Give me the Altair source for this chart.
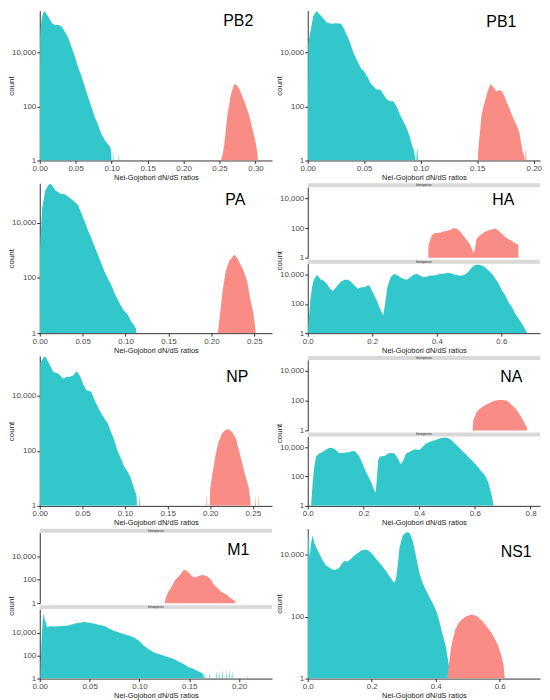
import altair as alt
import pandas as pd

# ---------------- data: (dN/dS ratio, count) outline points of each histogram ----------------
PB2_TEAL = [(0.0, 1), (0.0005, 4e4), (0.0023, 1.5e5), (0.0045, 2.8e5), (0.0068, 3.3e5), (0.0095, 2.6e5),
            (0.0123, 2e5), (0.017, 1.2e5), (0.0215, 1e5), (0.026, 1.05e5), (0.0306, 8.8e4), (0.035, 5.8e4),
            (0.0397, 3.3e4), (0.044, 1.6e4), (0.049, 6900), (0.053, 3000), (0.058, 1300), (0.0626, 550),
            (0.067, 234), (0.0717, 100), (0.076, 43), (0.081, 21), (0.0854, 10), (0.09, 6), (0.0945, 4),
            (0.097, 3.5), (0.099, 2.5), (0.1, 1), (0.1015, 1), (0.102, 2.5), (0.1025, 1), (0.1085, 1),
            (0.109, 2), (0.1095, 1)]
PB2_PINK = [(0.252, 1), (0.2545, 1.8), (0.2566, 3.9), (0.261, 49), (0.2658, 269), (0.270, 630), (0.2726, 660),
            (0.277, 470), (0.2817, 234), (0.2863, 115), (0.2909, 49), (0.2954, 16), (0.30, 5), (0.3023, 2.2),
            (0.3035, 1)]

PB1_TEAL = [(0.0, 1), (0.0005, 2e4), (0.002, 5e4), (0.0049, 2.2e5), (0.0078, 3.4e5), (0.012, 2.2e5),
            (0.0165, 1.3e5), (0.021, 1.15e5), (0.025, 1.2e5), (0.0295, 1.15e5), (0.032, 7.5e4), (0.0353, 3.8e4),
            (0.038, 1.9e4), (0.041, 8500), (0.044, 4600), (0.047, 2600), (0.0497, 2000), (0.0526, 1300),
            (0.0555, 740), (0.058, 560), (0.061, 420), (0.064, 420), (0.067, 275), (0.070, 180), (0.073, 155),
            (0.0757, 155), (0.0786, 100), (0.0815, 50), (0.0844, 29), (0.0873, 16.6), (0.090, 8.2), (0.092, 4),
            (0.094, 2.3), (0.0955, 1), (0.0962, 1), (0.0965, 2.5), (0.097, 2.5), (0.0975, 1)]
PB1_PINK = [(0.1505, 1), (0.151, 2.9), (0.1538, 50), (0.1566, 150), (0.1595, 400), (0.1616, 680), (0.1639, 530),
            (0.1668, 360), (0.1697, 400), (0.1725, 330), (0.1754, 170), (0.1783, 85), (0.1812, 42), (0.184, 24),
            (0.187, 12), (0.19, 2.3), (0.1913, 1.5), (0.192, 1), (0.1925, 1), (0.1928, 2.5), (0.1932, 2.5),
            (0.1935, 1)]

PA_TEAL = [(0.0, 1), (0.0003, 1200), (0.0027, 3.2e4), (0.0065, 1.5e5), (0.0103, 2.4e5), (0.013, 2.6e5),
           (0.018, 1.5e5), (0.0237, 1.15e5), (0.0294, 1.05e5), (0.035, 7.9e4), (0.041, 5.7e4), (0.0447, 4.3e4),
           (0.0485, 2.2e4), (0.0524, 1.1e4), (0.056, 5500), (0.06, 2800), (0.0638, 1400), (0.0677, 700),
           (0.0715, 350), (0.0753, 176), (0.079, 100), (0.083, 58), (0.0868, 30), (0.0906, 17), (0.0944, 10),
           (0.098, 6.5), (0.102, 5), (0.106, 2.8), (0.11, 1.9), (0.112, 1.5), (0.1125, 1)]
PA_PINK = [(0.2075, 1), (0.21, 5), (0.213, 34), (0.2167, 176), (0.2205, 400), (0.2244, 560), (0.227, 700),
           (0.23, 530), (0.234, 300), (0.2377, 176), (0.2416, 76), (0.245, 19), (0.249, 5), (0.2511, 1.5),
           (0.2515, 1)]

HA_PINK = [(0.3736, 1), (0.3745, 8), (0.3787, 13.5), (0.3838, 29), (0.389, 42), (0.399, 49), (0.409, 47),
           (0.419, 58), (0.429, 64), (0.44, 75), (0.45, 92), (0.458, 97), (0.465, 83), (0.4756, 49),
           (0.4853, 25), (0.4954, 13.5), (0.5056, 6.2), (0.5137, 2), (0.518, 3.7), (0.523, 17.5), (0.531, 29),
           (0.541, 42), (0.551, 58), (0.5716, 83), (0.582, 92), (0.592, 64), (0.602, 42), (0.612, 25),
           (0.622, 17.5), (0.633, 13.5), (0.648, 8), (0.6525, 8), (0.653, 1)]
HA_TEAL = [(0.0, 1), (0.003, 7.9), (0.008, 177), (0.0132, 1400), (0.018, 3900), (0.0234, 6600), (0.03, 9500),
           (0.0386, 5100), (0.0487, 3900), (0.059, 2350), (0.069, 1080), (0.076, 750), (0.084, 1080),
           (0.094, 2000), (0.1046, 3550), (0.115, 4400), (0.125, 4400), (0.135, 3000), (0.145, 1800),
           (0.155, 1080), (0.165, 1400), (0.1756, 1400), (0.186, 1800), (0.191, 1800), (0.196, 1080),
           (0.206, 384), (0.216, 136), (0.226, 37), (0.2335, 17), (0.2386, 63), (0.2467, 1400), (0.257, 6600),
           (0.267, 1.1e4), (0.277, 9500), (0.287, 6600), (0.2975, 5100), (0.3076, 4400), (0.3178, 6600),
           (0.328, 1e4), (0.338, 1.1e4), (0.348, 8700), (0.358, 6600), (0.3685, 7300), (0.3787, 8700),
           (0.389, 8700), (0.399, 9500), (0.409, 1.1e4), (0.419, 1.1e4), (0.429, 1.3e4), (0.44, 1.3e4),
           (0.45, 1.1e4), (0.46, 9500), (0.47, 8700), (0.48, 8700), (0.49, 1.1e4), (0.50, 1.86e4),
           (0.5107, 3.5e4), (0.521, 4.7e4), (0.531, 4.7e4), (0.541, 4e4), (0.551, 3.1e4), (0.561, 1.86e4),
           (0.5716, 1.1e4), (0.582, 5100), (0.592, 2350), (0.602, 830), (0.612, 384), (0.622, 136),
           (0.6325, 63), (0.6426, 22), (0.653, 10), (0.663, 4.7), (0.672, 2.2), (0.678, 1.3), (0.68, 1)]

NP_TEAL = [(0.0, 1), (0.0004, 8e4), (0.0008, 1.6e5), (0.0046, 2.5e5), (0.0065, 2.7e5), (0.0104, 1.6e5),
           (0.016, 7.4e4), (0.022, 6.4e4), (0.0277, 4.2e4), (0.0316, 4.9e4), (0.0354, 4.9e4), (0.039, 5.5e4),
           (0.0431, 7.8e4), (0.047, 5.5e4), (0.0508, 2.7e4), (0.0547, 1.6e4), (0.0604, 1.4e4), (0.0643, 6900),
           (0.068, 4000), (0.072, 2300), (0.0758, 1500), (0.0797, 1000), (0.0835, 480), (0.0874, 250),
           (0.091, 106), (0.095, 55), (0.099, 27), (0.1028, 18), (0.1066, 10.5), (0.11, 5), (0.1136, 2.3),
           (0.114, 1), (0.1165, 1), (0.117, 3), (0.1175, 1)]
NP_PINK = [(0.1955, 1), (0.196, 3), (0.1965, 1), (0.1995, 1), (0.2, 4.5), (0.2028, 16), (0.2067, 83),
           (0.21, 220), (0.214, 440), (0.218, 580), (0.222, 610), (0.226, 460), (0.23, 290), (0.2336, 106),
           (0.2375, 36), (0.2413, 12), (0.245, 5), (0.247, 1.7), (0.2475, 1), (0.2525, 1), (0.253, 2.5),
           (0.2535, 1), (0.2565, 1), (0.257, 3), (0.2575, 1)]

NA_PINK = [(0.592, 1), (0.594, 4.6), (0.606, 16.7), (0.618, 28), (0.629, 40), (0.641, 54), (0.653, 70),
           (0.665, 90), (0.676, 100), (0.688, 110), (0.7, 110), (0.712, 100), (0.723, 78), (0.735, 46),
           (0.747, 28), (0.759, 13), (0.77, 6), (0.782, 2.2), (0.787, 1.7), (0.788, 1)]
NA_TEAL = [(0.0118, 1), (0.0176, 36), (0.0235, 464), (0.0294, 2150), (0.041, 3600), (0.053, 4600),
           (0.0647, 6600), (0.0765, 8600), (0.086, 9000), (0.1, 6600), (0.112, 4000), (0.1235, 4000),
           (0.135, 4200), (0.147, 4400), (0.159, 5100), (0.17, 5100), (0.182, 2800), (0.194, 1000),
           (0.206, 278), (0.2176, 100), (0.229, 36), (0.2376, 13), (0.2435, 7.7), (0.247, 36), (0.253, 1300),
           (0.259, 2150), (0.2647, 2400), (0.276, 2500), (0.288, 3600), (0.3, 4000), (0.312, 3600),
           (0.3235, 1670), (0.333, 700), (0.341, 1000), (0.353, 3600), (0.365, 4600), (0.376, 6000),
           (0.388, 7000), (0.4, 6000), (0.412, 1e4), (0.4235, 1.67e4), (0.435, 2.15e4), (0.453, 2.8e4),
           (0.47, 3.6e4), (0.482, 4.2e4), (0.494, 4.4e4), (0.506, 4e4), (0.5176, 2.8e4), (0.529, 1.67e4),
           (0.541, 1e4), (0.553, 6000), (0.565, 3600), (0.576, 2150), (0.588, 1300), (0.6, 774), (0.612, 420),
           (0.6235, 215), (0.635, 129), (0.647, 46), (0.655, 13), (0.661, 4.6), (0.667, 1)]

M1_PINK = [(0.1222, 1), (0.1225, 1.9), (0.1228, 1), (0.1255, 1), (0.1258, 1.9), (0.1275, 5), (0.129, 9.7),
           (0.1324, 25.6), (0.1357, 94), (0.139, 180), (0.1423, 390), (0.144, 650), (0.1456, 740),
           (0.149, 470), (0.152, 218), (0.1555, 158), (0.1588, 204), (0.162, 248), (0.165, 248),
           (0.1686, 180), (0.172, 94), (0.175, 35), (0.1785, 18.6), (0.182, 9.7), (0.185, 7), (0.188, 5),
           (0.1917, 2.6), (0.194, 1.9), (0.1955, 1.7), (0.196, 1)]
M1_TEAL = [(0.0007, 1), (0.0016, 1400), (0.003, 1.4e5), (0.0043, 5.8e5), (0.0048, 1.4e5), (0.0056, 1e5),
           (0.0072, 3e4), (0.0105, 3.5e4), (0.0155, 3.3e4), (0.022, 3.7e4), (0.0287, 4.2e4), (0.035, 6.3e4),
           (0.04, 7.2e4), (0.045, 8.2e4), (0.05, 7.2e4), (0.055, 5.8e4), (0.06, 4.5e4), (0.065, 3.7e4),
           (0.07, 2.2e4), (0.0748, 1.4e4), (0.0797, 1e4), (0.0847, 7200), (0.09, 5200), (0.0945, 3700),
           (0.0995, 1900), (0.1044, 720), (0.109, 370), (0.1143, 190), (0.119, 140), (0.124, 100),
           (0.129, 72), (0.134, 52), (0.139, 30), (0.144, 19), (0.149, 10), (0.1538, 7), (0.159, 4.3),
           (0.1637, 2.7), (0.1645, 1), (0.165, 3.7), (0.1655, 1), (0.1695, 1), (0.17, 2.7), (0.1705, 1),
           (0.1765, 1), (0.177, 5.2), (0.1775, 1), (0.1795, 1), (0.18, 3.7), (0.1805, 1), (0.183, 1),
           (0.1835, 7.2), (0.184, 1), (0.1865, 1), (0.187, 5.2), (0.1875, 1), (0.1895, 1), (0.19, 7.2),
           (0.1905, 1), (0.1925, 1), (0.193, 5.2), (0.1935, 1), (0.2075, 1), (0.208, 1.9), (0.2085, 1)]

NS1_TEAL = [(0.0, 1), (0.0005, 2.2e4), (0.002, 5.9e4), (0.004, 2.2e4), (0.006, 8500), (0.01, 2.2e4),
            (0.0154, 4.2e4), (0.02, 2.5e4), (0.0256, 1.76e4), (0.036, 1.07e4), (0.046, 6600), (0.056, 4600),
            (0.0667, 3800), (0.077, 3300), (0.087, 3200), (0.097, 3600), (0.1077, 5200), (0.115, 6300),
            (0.123, 5800), (0.133, 6900), (0.1436, 8900), (0.154, 1.08e4), (0.164, 1.27e4), (0.174, 1.43e4),
            (0.185, 1.43e4), (0.195, 1.2e4), (0.205, 9500), (0.215, 6900), (0.2256, 5200), (0.236, 3800),
            (0.246, 2800), (0.256, 1950), (0.2667, 1350), (0.272, 1260), (0.277, 1950), (0.282, 5200),
            (0.287, 1.76e4), (0.297, 4.1e4), (0.3077, 5.2e4), (0.318, 5e4), (0.328, 2.8e4), (0.3385, 8500),
            (0.349, 2500), (0.359, 1200), (0.369, 730), (0.379, 450), (0.39, 275), (0.4, 170), (0.41, 81),
            (0.42, 30), (0.431, 11.5), (0.438, 4.3), (0.443, 2), (0.446, 1)]
NS1_PINK = [(0.436, 1), (0.441, 2.7), (0.446, 7), (0.451, 14.7), (0.4615, 39), (0.472, 63), (0.482, 81),
            (0.492, 96), (0.5026, 109), (0.513, 117), (0.523, 109), (0.533, 96), (0.5436, 75), (0.554, 56),
            (0.564, 41), (0.574, 30), (0.585, 18.8), (0.595, 11.5), (0.605, 5.5), (0.612, 2.7), (0.616, 1)]

TICKS_2DP_30 = [0.0, 0.05, 0.10, 0.15, 0.20, 0.25, 0.30]
TICKS_2DP_25 = [0.0, 0.05, 0.10, 0.15, 0.20, 0.25]
TICKS_2DP_20 = [0.0, 0.05, 0.10, 0.15, 0.20]
TICKS_1DP_6 = [0.0, 0.2, 0.4, 0.6]
TICKS_1DP_8 = [0.0, 0.2, 0.4, 0.6, 0.8]
YTICKS = [1, 100, 10000]
STRIP_LABELS = ["Interspecies", "Intraspecies"]

# ---------------- style ----------------
TEAL = "#31C7CB"
PINK = "#F98C84"
STRIP = "#D9D9D9"
FONT = "Liberation Sans"
XT = "Nei-Gojobori dN/dS ratios"
YT = "count"
W = 234
H = 151
# split panels: strip 0-4, upper plot 4-75, strip 77-81, lower plot 81-151
UP_RANGE = [75, 4]
LO_RANGE = [H, 81]


def df(pairs):
    return pd.DataFrame(pairs, columns=["x", "c"])


def x_axis(ticks, fmt):
    return alt.Axis(values=ticks, format=fmt, title=XT, titleFontSize=7.5, titleFontWeight="normal",
                    titleColor="#1A1A1A", titlePadding=1, titleFont=FONT, labelFont=FONT, labelFontSize=8,
                    labelColor="#4D4D4D", labelPadding=1, labelFlush=False, labelOverlap=False,
                    tickSize=3, tickColor="#333333", domainColor="#333333", grid=False)


def y_axis(title=True):
    kw = dict(values=YTICKS, format=",", orient="left", labelFont=FONT, labelFontSize=8,
              labelColor="#4D4D4D", labelPadding=1, tickSize=3, tickColor="#333333",
              domainColor="#333333", grid=False, labelOverlap=False)
    if title:
        kw.update(title=YT, titleFont=FONT, titleFontSize=8, titleFontWeight="normal",
                  titleColor="#1A1A1A", titleX=-24)
    else:
        kw["title"] = None
    return alt.Axis(**kw)


def area(pairs, color, xdom, ydom, xax, yax, yrange=None):
    ys = dict(type="log", domain=ydom, nice=False)
    if yrange is not None:
        ys["range"] = yrange
    return alt.Chart(df(pairs)).mark_area(color=color, clip=True, interpolate="linear").encode(
        x=alt.X("x:Q", scale=alt.Scale(domain=xdom, nice=False, zero=False), axis=xax),
        y=alt.Y("c:Q", scale=alt.Scale(**ys), axis=yax),
        y2=alt.datum(1),
    )


def label(text, lx, ly):
    return alt.Chart(pd.DataFrame({"t": [text]})).mark_text(
        font=FONT, fontSize=16, color="#000000", align="center", baseline="middle"
    ).encode(x=alt.value(lx), y=alt.value(ly), text="t:N")


def side_title(ly):
    return alt.Chart(pd.DataFrame({"t": [YT]})).mark_text(
        font=FONT, fontSize=8, color="#1A1A1A", align="center", baseline="middle", angle=270
    ).encode(x=alt.value(-28), y=alt.value(ly), text="t:N")


def strip(text, y0):
    d = pd.DataFrame({"t": [text]})
    r = alt.Chart(d).mark_rect(color=STRIP).encode(
        x=alt.value(0), x2=alt.value(W), y=alt.value(y0), y2=alt.value(y0 + 4))
    t = alt.Chart(d).mark_text(font=FONT, fontSize=3, color="#1A1A1A").encode(
        x=alt.value(W / 2), y=alt.value(y0 + 2), text="t:N")
    return [r, t]


def full_panel(teal, pink, xdom, ticks, fmt, ytop, name, lx, ly):
    xa = x_axis(ticks, fmt)
    ya = y_axis()
    yd = [1, ytop]
    return alt.layer(
        area(teal, TEAL, xdom, yd, xa, ya),
        area(pink, PINK, xdom, yd, xa, ya),
        label(name, lx, ly),
    ).properties(width=W, height=H)


def split_panel(teal, pink, xdom, ticks, fmt, ytop, name, lx, ly):
    yd = [1, ytop]
    xa = x_axis(ticks, fmt)
    upper = area(pink, PINK, xdom, yd, xa, y_axis(title=False), UP_RANGE)
    lower = area(teal, TEAL, xdom, yd, xa, y_axis(title=False), LO_RANGE)
    return alt.layer(
        *strip(STRIP_LABELS[0], 0), upper, *strip(STRIP_LABELS[1], 77), lower,
        label(name, lx, ly), side_title(78),
    ).resolve_scale(y="independent").properties(width=W, height=H)


pb2 = full_panel(PB2_TEAL, PB2_PINK, [0, 0.323], TICKS_2DP_30, ".2f", 3.5e5, "PB2", 200, 11)
pb1 = full_panel(PB1_TEAL, PB1_PINK, [0, 0.2055], TICKS_2DP_20, ".2f", 3.5e5, "PB1", 195, 12)
pa = full_panel(PA_TEAL, PA_PINK, [0, 0.2706], TICKS_2DP_25, ".2f", 2.7e5, "PA", 197, 17)
ha = split_panel(HA_TEAL, HA_PINK, [0, 0.72], TICKS_1DP_6, ".1f", 5.6e4, "HA", 197, 17)
np_ = full_panel(NP_TEAL, NP_PINK, [0, 0.2725], TICKS_2DP_25, ".2f", 2.8e5, "NP", 199, 21)
na = split_panel(NA_TEAL, NA_PINK, [0, 0.834], TICKS_1DP_8, ".1f", 5.3e4, "NA", 205, 21)
m1 = split_panel(M1_TEAL, M1_PINK, [0, 0.233], TICKS_2DP_20, ".2f", 1.1e6, "M1", 200, 21)
ns1 = full_panel(NS1_TEAL, NS1_PINK, [0, 0.726], TICKS_1DP_6, ".1f", 6.8e4, "NS1", 210, 24)


def row(a, b):
    return alt.hconcat(a, b, spacing=4).resolve_scale(x="independent", y="independent")


chart = alt.vconcat(
    row(pb2, pb1), row(pa, ha), row(np_, na), row(m1, ns1), spacing=2,
).resolve_scale(x="independent", y="independent").properties(padding=0)

chart = chart.configure(font=FONT, background="white").configure_view(strokeWidth=0)

chart.save("out.html", embed_options={"renderer": "svg", "actions": False})
